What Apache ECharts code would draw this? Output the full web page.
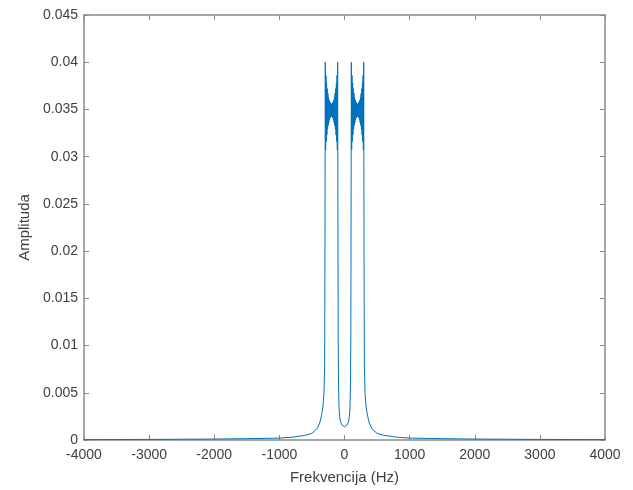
<!DOCTYPE html>
<html><head><meta charset="utf-8">
<script src="https://cdn.jsdelivr.net/npm/echarts@6/dist/echarts.min.js"></script>
<style>html,body{margin:0;padding:0;background:#fff}#c{width:633px;height:490px}</style>
</head><body><div id="c"></div>
<script>
// Frequencies (Hz) and amplitudes
const freqOuterNeg = [-4000,-3000,-2000,-1500,-1000,-800,-700,-600,-500,-420,-380,-350,-330,-315,-305];
const ampOuterNeg  = [0.00004,0.00006,0.0001,0.00014,0.0002,0.0003,0.0004,0.0005,0.0007,0.0012,0.0018,0.0027,0.0036,0.005,0.008];
// band -300 .. -100 Hz, 5 Hz steps
const freqBandNeg = [-300,-295,-290,-285,-280,-275,-270,-265,-260,-255,-250,-245,-240,-235,-230,-225,-220,-215,-210,-205,-200,-195,-190,-185,-180,-175,-170,-165,-160,-155,-150,-145,-140,-135,-130,-125,-120,-115,-110,-105,-100];
const ampBandNeg  = [0.02,0.0400,0.0307,0.0386,0.0316,0.0378,0.0323,0.0372,0.0329,0.0367,0.0333,0.0363,0.0336,0.0360,0.0339,0.0358,0.0341,0.0357,0.0342,0.0356,0.0343,0.0356,0.0342,0.0357,0.0341,0.0358,0.0339,0.0360,0.0336,0.0363,0.0333,0.0367,0.0329,0.0372,0.0323,0.0378,0.0316,0.0386,0.0307,0.0400,0.02];
const freqInner = [-97,-92,-85,-75,-60,-40,-20,0,20,40,60,75,85,92,97];
const ampInner  = [0.011,0.006,0.0036,0.0025,0.0019,0.0016,0.0015,0.0014,0.0015,0.0016,0.0019,0.0025,0.0036,0.006,0.011];
// band 100 .. 300 Hz
const freqBandPos = [100,105,110,115,120,125,130,135,140,145,150,155,160,165,170,175,180,185,190,195,200,205,210,215,220,225,230,235,240,245,250,255,260,265,270,275,280,285,290,295,300];
const ampBandPos  = [0.02,0.0400,0.0307,0.0386,0.0316,0.0378,0.0323,0.0372,0.0329,0.0367,0.0333,0.0363,0.0336,0.0360,0.0339,0.0358,0.0341,0.0357,0.0342,0.0356,0.0343,0.0356,0.0342,0.0357,0.0341,0.0358,0.0339,0.0360,0.0336,0.0363,0.0333,0.0367,0.0329,0.0372,0.0323,0.0378,0.0316,0.0386,0.0307,0.0400,0.02];
const freqOuterPos = [305,315,330,350,380,420,500,600,700,800,1000,1500,2000,3000,4000];
const ampOuterPos  = [0.008,0.005,0.0036,0.0027,0.0018,0.0012,0.0007,0.0005,0.0004,0.0003,0.0002,0.00014,0.0001,0.00006,0.00004];

const xTicks = [-4000,-3000,-2000,-1000,0,1000,2000,3000,4000];
const yTicks = [0,0.005,0.01,0.015,0.02,0.025,0.03,0.035,0.04,0.045];

const freq = [].concat(freqOuterNeg, freqBandNeg, freqInner, freqBandPos, freqOuterPos);
const amp  = [].concat(ampOuterNeg, ampBandNeg, ampInner, ampBandPos, ampOuterPos);
const data = freq.map((f, i) => [f, amp[i]]);

const axisCol = '#8a8a8a', txtCol = '#404040';
const font = 'Liberation Sans, Arial, sans-serif';
const chart = echarts.init(document.getElementById('c'), null, {renderer: 'canvas'});
const xCommon = {type:'value', min:xTicks[0], max:xTicks[xTicks.length-1], interval:1000,
  axisLine:{show:true, onZero:false, lineStyle:{color:axisCol, width:1.5}},
  axisTick:{show:true, inside:true, length:5, lineStyle:{color:axisCol}},
  splitLine:{show:false}};
const yCommon = {type:'value', min:yTicks[0], max:yTicks[yTicks.length-1], interval:0.005,
  axisLine:{show:true, onZero:false, lineStyle:{color:axisCol, width:1.5}},
  axisTick:{show:true, inside:true, length:5, lineStyle:{color:axisCol}},
  splitLine:{show:false}};
chart.setOption({
  animation:false,
  backgroundColor:'#fff',
  grid:{left:84, right:28, top:15, bottom:49, containLabel:false},
  xAxis:[
    Object.assign({}, xCommon, {position:'bottom', name:'Frekvencija (Hz)', nameLocation:'middle', nameGap:30,
      nameTextStyle:{color:txtCol, fontSize:15, fontFamily:font},
      axisLabel:{color:txtCol, fontSize:14, fontFamily:font, margin:8, formatter: v => String(v)}}),
    Object.assign({}, xCommon, {position:'top', axisLabel:{show:false}})
  ],
  yAxis:[
    Object.assign({}, yCommon, {position:'left', name:'Amplituda', nameLocation:'middle', nameGap:52,
      nameTextStyle:{color:txtCol, fontSize:15, fontFamily:font},
      axisLabel:{color:txtCol, fontSize:14, fontFamily:font, margin:6,
        formatter: v => String(Number(v.toFixed(3)))}}),
    Object.assign({}, yCommon, {position:'right', axisLabel:{show:false}})
  ],
  series:[{type:'line', data:data, xAxisIndex:0, yAxisIndex:0, showSymbol:false, symbol:'none',
    lineStyle:{color:'#0072BD', width:1}, smooth:false}]
});
</script></body></html>
